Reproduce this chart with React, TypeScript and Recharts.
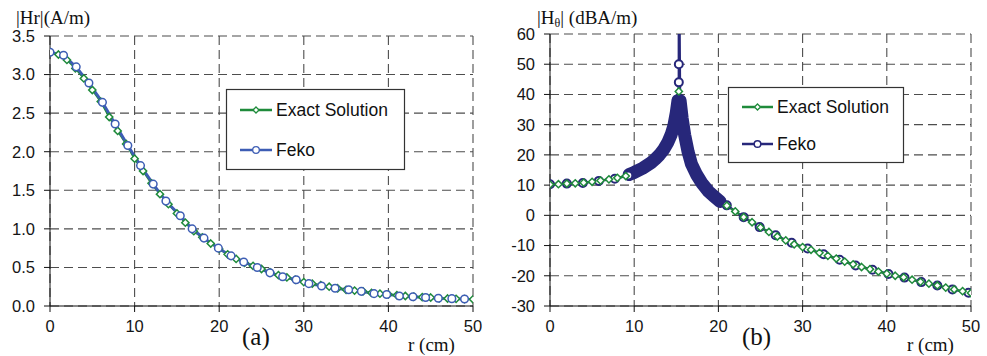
import { CartesianGrid, Line, LineChart, XAxis, YAxis } from 'recharts';

type Pt = [number, number];

const R_TICKS = [0, 10, 20, 30, 40, 50];
const HR_TICKS = [0, 0.5, 1, 1.5, 2, 2.5, 3, 3.5];
const HT_TICKS = [-30, -20, -10, 0, 10, 20, 30, 40, 50, 60];

// (a) |Hr| (A/m)
const exactA: Pt[] = [
  [0, 3.29], [1, 3.26], [2, 3.19], [3, 3.08], [4, 2.95], [5, 2.8], [6, 2.65], [7, 2.45],
  [8, 2.27], [9, 2.1], [10, 1.91], [11, 1.75], [12, 1.59], [13, 1.45], [14, 1.32], [15, 1.2],
  [16, 1.08], [17, 0.97], [18, 0.89], [19, 0.81], [20, 0.74], [21, 0.67], [22, 0.61], [23, 0.56],
  [24, 0.52], [25, 0.48], [26, 0.44], [27, 0.4], [28, 0.37], [29, 0.34], [30, 0.31], [31, 0.29],
  [32, 0.27], [33, 0.25], [34, 0.23], [35, 0.21], [36, 0.2], [37, 0.19], [38, 0.17], [39, 0.16],
  [40, 0.15], [41, 0.14], [42, 0.13], [43, 0.12], [44, 0.115], [45, 0.11], [46, 0.1], [47, 0.097],
  [48, 0.093], [49, 0.09], [50, 0.087],
];
const fekoA: Pt[] = [
  [0, 3.29], [1.6, 3.25], [3.1, 3.1], [4.6, 2.89], [6.2, 2.64], [7.7, 2.36], [9.2, 2.08],
  [10.7, 1.82], [12.2, 1.58], [13.7, 1.36], [15.4, 1.17], [16.8, 1.0], [18.2, 0.88], [19.9, 0.75],
  [21.4, 0.65], [22.9, 0.57], [24.5, 0.5], [26.0, 0.43], [27.5, 0.38], [29.1, 0.34], [30.6, 0.29],
  [32.1, 0.26], [33.7, 0.23], [35.3, 0.21], [36.8, 0.19], [38.3, 0.16], [39.8, 0.15], [41.3, 0.13],
  [42.9, 0.12], [44.4, 0.11], [45.9, 0.1], [47.5, 0.095], [49.0, 0.09],
];

// (b) |Htheta| (dBA/m)
const exactB: Pt[] = [
  [0, 10.2], [1, 10.3], [2, 10.5], [3, 10.6], [4, 10.8], [5, 11.1], [6, 11.5], [7, 11.9],
  [8, 12.4], [9, 13.0], [10, 13.8], [11, 15.2], [12, 17.2], [13, 20.0], [14, 24.5], [15, 34.0],
  [15.3, 41.0], [16, 25.0], [17, 15.8], [18, 10.5], [19, 7.5], [20, 4.9], [21, 3.2], [22, 1.3],
  [23, -0.6], [24, -2.3], [25, -4.0], [26, -5.5], [27, -7.0], [28, -8.3], [29, -9.6], [30, -10.5],
  [31, -11.4], [32, -12.4], [33, -13.4], [34, -14.3], [35, -15.3], [36, -16.2], [37, -17.1],
  [38, -17.8], [39, -18.6], [40, -19.3], [41, -20.0], [42, -20.5], [43, -21.3], [44, -22.0],
  [45, -22.6], [46, -23.2], [47, -23.9], [48, -24.5], [49, -25.1], [50, -25.7],
];
const fekoBNear: Pt[] = [[0, 10.3], [2.0, 10.5], [3.9, 10.7], [5.8, 11.4], [7.7, 12.1], [9.3, 13.2]];
const fekoBBandIn: Pt[] = [
  [9.4, 13.5], [10, 14.2], [11, 15.6], [12, 17.4], [12.5, 18.6], [13, 20.0], [13.5, 21.8],
  [14, 24.2], [14.4, 26.8], [14.7, 29.5], [15.0, 34.0], [15.2, 38.0],
];
const fekoBPeak: Pt[] = [[15.3, 44], [15.3, 50], [15.3, 95]];
const fekoBBandOut: Pt[] = [
  [15.45, 38], [15.7, 32], [16.0, 26.5], [16.4, 21.0], [16.8, 17.0], [17.4, 13.5], [18.0, 10.8],
  [18.8, 8.0], [19.5, 6.2], [20.2, 4.6],
];
const fekoBFar: Pt[] = [
  [21.0, 3.3], [23.0, -0.6], [24.9, -3.9], [26.8, -6.6], [28.7, -9.1], [30.6, -11.0], [32.5, -12.9],
  [34.4, -14.7], [36.3, -16.6], [38.3, -18.0], [40.2, -19.4], [42.1, -20.6], [44.1, -22.1],
  [46.0, -23.2], [47.8, -24.5], [49.7, -25.6],
];

const toRows = (pts: Pt[]) => pts.map(([r, v]) => ({ r, v }));

const GREEN = '#1f8b3b';
const BLUE = '#3d5db4';
const NAVY = '#27277a';
const GRID = '#4d4d4d';
const SANS = '"Liberation Sans", Arial, sans-serif';
const SERIF = '"Liberation Serif", "Times New Roman", serif';

const tickStyle = { fill: '#151515', fontSize: 16.5, fontFamily: SANS };

// the dense Feko band hides the exact curve between 10 and 20 cm, except its tip
const underBand = (r: number) => r > 9.5 && r < 20.5 && r !== 15.3;

function diamondDot(color: string, hidden?: (r: number) => boolean) {
  return (props: any) => {
    const { cx, cy, index, payload } = props;
    if (cx == null || cy == null || (hidden && hidden(payload.r))) return <g key={index} />;
    const s = 3.6;
    return (
      <path
        key={index}
        d={`M${cx},${cy - s}L${cx + s},${cy}L${cx},${cy + s}L${cx - s},${cy}Z`}
        fill="#fff"
        stroke={color}
        strokeWidth={1.5}
      />
    );
  };
}

export default function App() {
  const exactARows = toRows(exactA);
  const fekoARows = toRows(fekoA);
  const exactBRows = toRows(exactB);
  const fekoBLine = toRows([...fekoBNear, ...fekoBBandIn, ...fekoBPeak, ...fekoBBandOut, ...fekoBFar]);
  const fekoBMarks = toRows([...fekoBNear, ...fekoBPeak.slice(0, 2), ...fekoBFar]);
  const fekoBBand = toRows([...fekoBBandIn, ...fekoBBandOut]);

  return (
    <div style={{ position: 'absolute', left: 0, top: 0, width: 987, height: 356, background: '#fff' }}>
      <div style={{ position: 'absolute', left: 0, top: 0 }}>
        <LineChart width={490} height={356} margin={{ top: 36, right: 17, bottom: 20, left: 10 }}>
          <CartesianGrid stroke={GRID} strokeDasharray="9 5" strokeWidth={1.1} />
          <XAxis
            type="number"
            dataKey="r"
            domain={[0, 50]}
            ticks={R_TICKS}
            height={30}
            tickSize={6}
            tickMargin={8}
            tick={tickStyle}
            stroke="#111"
            allowDataOverflow
          />
          <YAxis
            type="number"
            dataKey="v"
            domain={[0, 3.5]}
            ticks={HR_TICKS}
            width={40}
            tickSize={6}
            tickMargin={9}
            tick={tickStyle}
            stroke="#111"
            tickFormatter={(v: number) => v.toFixed(1)}
          />
          <Line data={exactARows} dataKey="v" stroke={GREEN} strokeWidth={2} dot={diamondDot(GREEN)} isAnimationActive={false} />
          <Line
            data={fekoARows}
            dataKey="v"
            stroke={BLUE}
            strokeWidth={2.8}
            dot={{ r: 3.8, fill: '#fff', stroke: BLUE, strokeWidth: 1.5 }}
            isAnimationActive={false}
          />
        </LineChart>
      </div>

      <div style={{ position: 'absolute', left: 490, top: 0 }}>
        <LineChart width={497} height={356} margin={{ top: 34, right: 16, bottom: 20, left: 15 }}>
          <CartesianGrid stroke={GRID} strokeDasharray="9 5" strokeWidth={1.1} />
          <XAxis
            type="number"
            dataKey="r"
            domain={[0, 50]}
            ticks={R_TICKS}
            height={30}
            tickSize={6}
            tickMargin={8}
            tick={tickStyle}
            stroke="#111"
            allowDataOverflow
          />
          <YAxis
            type="number"
            dataKey="v"
            domain={[-30, 60]}
            ticks={HT_TICKS}
            width={45}
            tickSize={6}
            tickMargin={9}
            tick={tickStyle}
            stroke="#111"
            allowDataOverflow
          />
          <Line data={fekoBLine} dataKey="v" stroke={NAVY} strokeWidth={2.4} dot={false} isAnimationActive={false} />
          <Line
            data={fekoBMarks}
            dataKey="v"
            stroke="none"
            dot={{ r: 4, fill: '#fff', stroke: NAVY, strokeWidth: 2 }}
            isAnimationActive={false}
          />
          <Line
            data={exactBRows}
            dataKey="v"
            stroke={GREEN}
            strokeWidth={1.8}
            dot={diamondDot(GREEN, underBand)}
            isAnimationActive={false}
          />
          <Line
            data={fekoBBand}
            dataKey="v"
            stroke={NAVY}
            strokeWidth={13}
            strokeLinecap="round"
            strokeLinejoin="round"
            dot={false}
            isAnimationActive={false}
          />
        </LineChart>
      </div>

      <svg width={987} height={356} style={{ position: 'absolute', left: 0, top: 0, pointerEvents: 'none' }}>
        <g fontFamily={SERIF} fill="#111">
          <text x={16} y={24} fontSize={19}>|Hr|(A/m)</text>
          <text x={537} y={24} fontSize={19}>
            |H<tspan fontSize={12} dy={3}>θ</tspan>
            <tspan dy={-3}>| (dBA/m)</tspan>
          </text>
          <text x={408} y={351} fontSize={19}>r (cm)</text>
          <text x={907} y={351} fontSize={19}>r (cm)</text>
          <text x={242} y={345} fontSize={25}>(a)</text>
          <text x={742} y={345} fontSize={25}>(b)</text>
        </g>

        <g fontFamily={SANS} fontSize={17.5} fill="#111">
          <rect x={226.5} y={89.5} width={178} height={80} fill="#fff" stroke="#333" strokeWidth={1.2} />
          <line x1={240} x2={272} y1={110} y2={110} stroke={GREEN} strokeWidth={2.5} />
          <path d="M256,107L259,110L256,113L253,110Z" fill="#fff" stroke={GREEN} strokeWidth={1.3} />
          <text x={276} y={116}>Exact Solution</text>
          <line x1={240} x2={272} y1={150} y2={150} stroke={BLUE} strokeWidth={2.5} />
          <circle cx={256} cy={150} r={3.3} fill="#fff" stroke={BLUE} strokeWidth={1.3} />
          <text x={276} y={156}>Feko</text>

          <rect x={728.5} y={87.5} width={175} height={75} fill="#fff" stroke="#333" strokeWidth={1.2} />
          <line x1={742} x2={773} y1={107} y2={107} stroke={GREEN} strokeWidth={2.5} />
          <path d="M757.5,104L760.5,107L757.5,110L754.5,107Z" fill="#fff" stroke={GREEN} strokeWidth={1.3} />
          <text x={777} y={113}>Exact Solution</text>
          <line x1={742} x2={773} y1={144} y2={144} stroke={NAVY} strokeWidth={2.5} />
          <circle cx={757.5} cy={144} r={3.3} fill="#fff" stroke={NAVY} strokeWidth={1.5} />
          <text x={777} y={150}>Feko</text>
        </g>
      </svg>
    </div>
  );
}
